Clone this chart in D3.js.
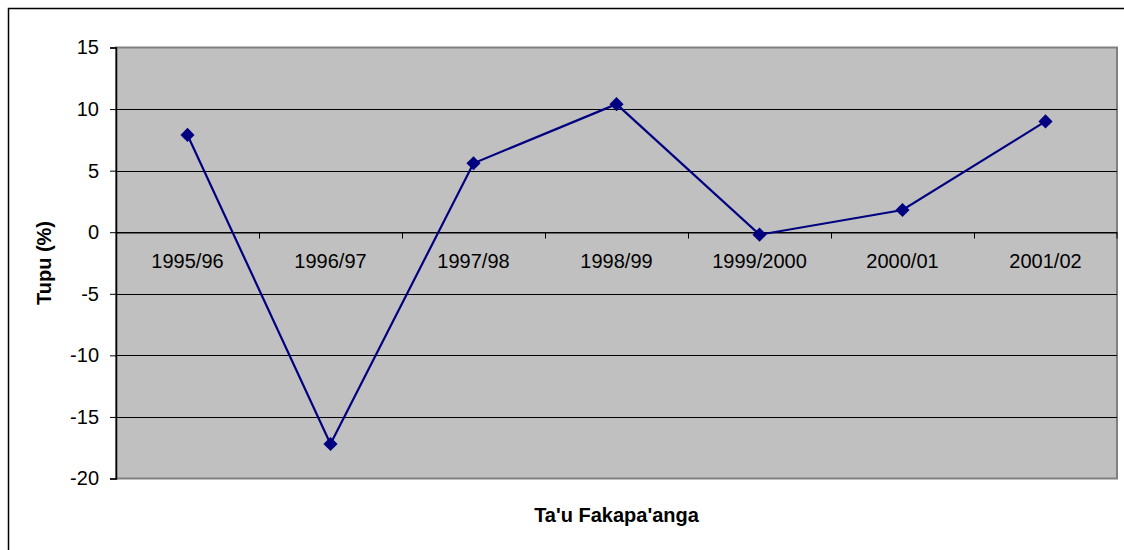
<!DOCTYPE html>
<html>
<head>
<meta charset="utf-8">
<script src="https://cdn.jsdelivr.net/npm/d3@7"></script>
<style>
  html, body { margin: 0; padding: 0; background: #fff; }
  svg { display: block; font-family: Arial, "Liberation Sans", sans-serif; }
</style>
</head>
<body>
<div id="chart"></div>
<script>
const categories = ['1995/96', '1996/97', '1997/98', '1998/99', '1999/2000', '2000/01', '2001/02'];
const values = [7.9, -17.2, 5.6, 10.4, -0.2, 1.8, 9.0];
const yTicks = [15, 10, 5, 0, -5, -10, -15, -20];

const width = 1124, height = 550;
const plot = { left: 116, right: 1117, top: 47.5, bottom: 478.5 };

const svg = d3.select('#chart')
  .append('svg')
  .attr('width', width)
  .attr('height', height);

// outer chart frame (runs off the right and bottom edges)
svg.append('rect')
  .attr('x', 8.5).attr('y', 8.5)
  .attr('width', width + 10).attr('height', height + 10)
  .attr('fill', '#fff')
  .attr('stroke', '#000')
  .attr('stroke-width', 1.5);

const x = d3.scaleBand()
  .domain(categories)
  .range([plot.left, plot.right])
  .padding(0);

const y = d3.scaleLinear()
  .domain([-20, 15])
  .range([plot.bottom, plot.top]);

// plot area background with gray edge
svg.append('rect')
  .attr('x', plot.left).attr('y', plot.top)
  .attr('width', plot.right - plot.left)
  .attr('height', plot.bottom - plot.top)
  .attr('fill', '#c0c0c0')
  .attr('stroke', '#808080')
  .attr('stroke-width', 2);

// gridlines
svg.append('g')
  .selectAll('line')
  .data(yTicks.filter(d => d !== 15 && d !== -20))
  .enter().append('line')
  .attr('x1', plot.left).attr('x2', plot.right)
  .attr('y1', d => Math.round(y(d)) + 0.5)
  .attr('y2', d => Math.round(y(d)) + 0.5)
  .attr('stroke', '#000')
  .attr('stroke-width', 1);

// Y axis (plain hyphen for negatives, like the original)
const yAxis = svg.append('g')
  .attr('transform', `translate(${plot.left},0)`)
  .call(d3.axisLeft(y).tickValues(yTicks).tickFormat(d => String(d)).tickSize(6).tickPadding(11));

yAxis.select('.domain').attr('stroke', '#000').attr('stroke-width', 1.5);
yAxis.selectAll('.tick line').attr('stroke', '#000');
yAxis.selectAll('text')
  .style('font-size', '20px')
  .style('fill', '#000');

// X axis at zero
const x0 = Math.round(y(0)) + 0.5;
const xAxis = svg.append('g')
  .attr('transform', `translate(0,${x0})`)
  .call(d3.axisBottom(x).tickSize(0).tickPadding(21));

xAxis.select('.domain').attr('stroke', '#000').attr('stroke-width', 1);
xAxis.selectAll('text')
  .style('font-size', '20px')
  .style('fill', '#000');

// category boundary ticks
svg.append('g')
  .selectAll('line')
  .data(categories.slice(1).concat(['end']))
  .enter().append('line')
  .attr('x1', d => d === 'end' ? plot.right : Math.round(x(d)) + 0.5)
  .attr('x2', d => d === 'end' ? plot.right : Math.round(x(d)) + 0.5)
  .attr('y1', x0)
  .attr('y2', x0 + 6)
  .attr('stroke', '#000')
  .attr('stroke-width', 1);

// line
const line = d3.line()
  .x((d, i) => x(categories[i]) + x.bandwidth() / 2)
  .y(d => y(d));

svg.append('path')
  .datum(values)
  .attr('d', line)
  .attr('fill', 'none')
  .attr('stroke', '#000080')
  .attr('stroke-width', 2.2);

// diamond markers
svg.append('g')
  .selectAll('path')
  .data(values)
  .enter().append('path')
  .attr('d', d3.symbol().type(d3.symbolSquare).size(100))
  .attr('transform', (d, i) => `translate(${x(categories[i]) + x.bandwidth() / 2},${y(d)}) rotate(45)`)
  .attr('fill', '#000080');

// axis titles
svg.append('text')
  .attr('x', (plot.left + plot.right) / 2)
  .attr('y', 522)
  .attr('text-anchor', 'middle')
  .style('font-size', '20px')
  .style('font-weight', 'bold')
  .text("Ta'u Fakapa'anga");

svg.append('text')
  .attr('transform', `translate(51,${(plot.top + plot.bottom) / 2}) rotate(-90)`)
  .attr('text-anchor', 'middle')
  .style('font-size', '20px')
  .style('font-weight', 'bold')
  .text('Tupu (%)');
</script>
</body>
</html>
